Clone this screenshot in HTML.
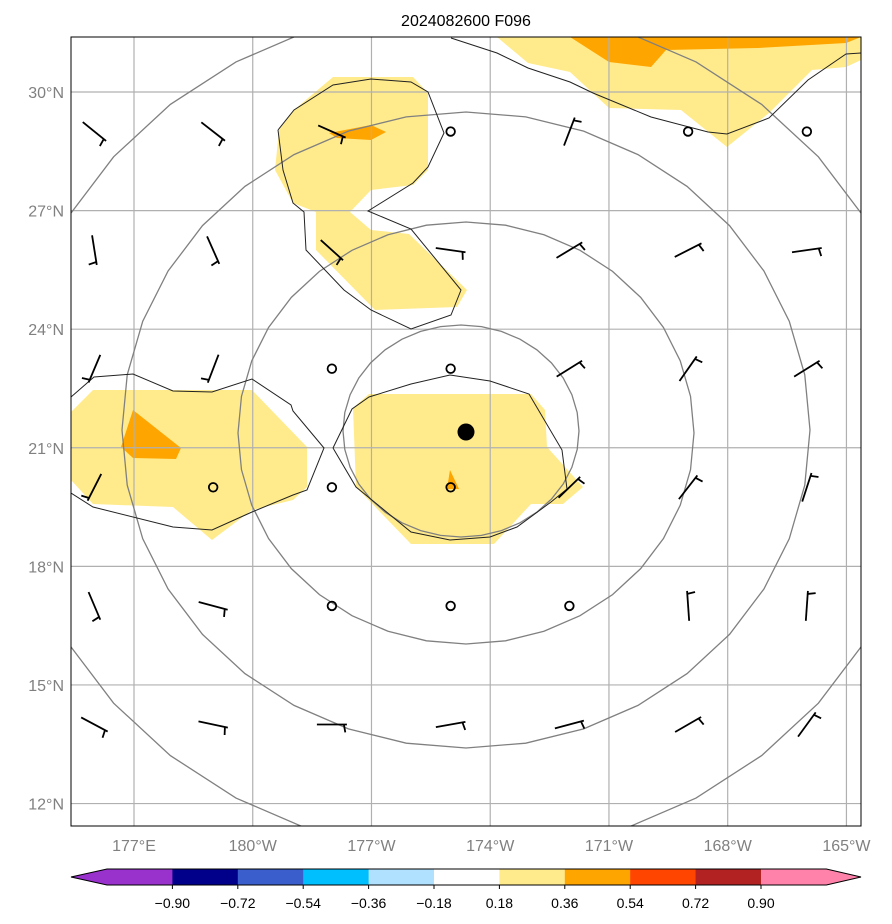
<!DOCTYPE html>
<html><head><meta charset="utf-8"><style>
html,body{margin:0;padding:0;background:#fff;width:892px;height:924px;overflow:hidden}
svg{display:block;font-family:"Liberation Sans","DejaVu Sans",sans-serif}
</style></head><body>
<svg id="chart" width="892" height="924" viewBox="0 0 892 924">
<defs><clipPath id="pc"><rect x="71" y="37" width="790" height="789"/></clipPath></defs>
<text x="466" y="26" text-anchor="middle" font-size="16" fill="#000">2024082600 F096</text>
<g id="fills" clip-path="url(#pc)"></g>
<g id="grid" clip-path="url(#pc)"></g>
<g id="rings" clip-path="url(#pc)"></g>
<g id="contours" clip-path="url(#pc)"></g>
<g id="barbs" clip-path="url(#pc)"></g>
<circle cx="466" cy="432" r="8.5" fill="#000"/>
<rect x="71" y="37" width="790" height="789" fill="none" stroke="#000" stroke-width="1"/>
<g id="ticks"></g>
<g id="cbar"></g>
</svg>
<script>
const NS='http://www.w3.org/2000/svg';
const lonTicks=[177,180,183,186,189,192,195];
const lonLabels=['177°E','180°W','177°W','174°W','171°W','168°W','165°W'];
const latTicks=[30,27,24,21,18,15,12];
const latLabels=['30°N','27°N','24°N','21°N','18°N','15°N','12°N'];
const stationLons=[176,179,182,185,188,191,194];
const stationLats=[29,26,23,20,17,14];
// barb tip direction (screen degrees), null = calm
const barbDirs=[
 [39,38,24,null,-69,null,null],
 [81,66,42,8,-31,-27,-8],
 [113,111,null,null,-32,-55,-32],
 [117,null,null,null,-44,-52,-72],
 [67,15,null,null,null,-94,-86],
 [28,12,0,-10,-15,-30,-54]
];
const cbLevels=[-0.90,-0.72,-0.54,-0.36,-0.18,0.18,0.36,0.54,0.72,0.90];
const cbColors=['#9932cc','#00008b','#3a5fcd','#00bfff','#b0e2ff','#ffffff','#ffeb8c','#ffa500','#ff4500','#b22222','#ff82ab'];
function X(lon){return 134+(lon-177)*39.58;}
function Y(lat){return 92+(30-lat)*39.53;}
function mk(tag,attrs,parent){const e=document.createElementNS(NS,tag);for(const k in attrs)e.setAttribute(k,attrs[k]);parent.appendChild(e);return e;}
function pts(a){return a.map(p=>p.join(',')).join(' ');}
const fills=document.getElementById('fills');
const Yl='#ffeb8c',Or='#ffa500';
const fillShapes=[
 [Yl,[[71,412],[93,390],[252,390],[307,447],[307,487],[293,500],[252,510],[212,540],[173,507],[93,504],[71,480]]],
 [Or,[[133,410],[181,448],[176,459],[133,458],[121,447]]],
 [Yl,[[369,394],[531,394],[545,410],[547,447],[583,487],[563,504],[531,504],[494,544],[411,544],[356,487],[353,408]]],
 [Or,[[450,470],[459,489],[447,489]]],
 [Yl,[[294,110],[333,77],[413,77],[428,93],[428,170],[413,185],[371,190],[350,212],[371,230],[409,234],[436,260],[467,290],[457,307],[375,310],[316,250],[316,212],[293,203],[275,170],[279,130]]],
 [Or,[[329,133],[371,125],[386,132],[371,140],[337,138]]],
 [Yl,[[497,37],[861,37],[861,60],[846,67],[812,70],[769,113],[727,147],[681,110],[609,108],[570,72],[528,63]]],
 [Or,[[570,37],[861,37],[846,43],[758,48],[666,50],[651,67],[609,62]]]
];
fillShapes.forEach(s=>{const e=mk('polygon',{points:pts(s[1]),fill:s[0]},fills);

});
const grid=document.getElementById('grid');
lonTicks.forEach(l=>mk('line',{x1:X(l),x2:X(l),y1:37,y2:826,stroke:'#b0b0b0','stroke-width':1.2},grid));
latTicks.forEach(l=>mk('line',{x1:71,x2:861,y1:Y(l),y2:Y(l),stroke:'#b0b0b0','stroke-width':1.2},grid));
const rings=document.getElementById('rings');
[[461,431,118,106],[466,433,228,211],[466,430,344,318],[466,430,460,425]].forEach(r=>{
 const a=[];for(let i=0;i<36;i++){const t=i*Math.PI/18;a.push([r[0]+r[2]*Math.cos(t),r[1]+r[3]*Math.sin(t)]);}
 mk('polygon',{points:pts(a),fill:'none',stroke:'#808080','stroke-width':1.3},rings);});
const cont=document.getElementById('contours');
const contourLines=[
 [[71,397],[94,377],[133,374],[173,391],[212,392],[252,379],[291,405],[293,411],[324,448],[307,490],[293,495],[252,512],[212,530],[173,527],[93,507],[71,493]],
 [[333,448],[352,409],[369,397],[411,384],[450,375],[490,381],[529,394],[562,450],[567,489],[551,502],[517,527],[490,537],[450,540],[411,532],[356,487],[333,448]],
 [[278,130],[294,110],[333,85],[371,79],[411,82],[428,92],[444,133],[428,167],[413,183],[368,211],[411,229],[461,290],[451,315],[411,329],[371,310],[344,290],[306,250],[304,212],[293,203],[283,170],[278,130]],
 [[451,38],[497,53],[528,68],[570,82],[593,93],[651,117],[708,132],[727,134],[769,118],[808,80],[846,54],[861,53]]
];
contourLines.forEach(c=>mk('polyline',{points:pts(c),fill:'none',stroke:'#222','stroke-width':1},cont));
const barbs=document.getElementById('barbs');
stationLats.forEach((lat,i)=>stationLons.forEach((lon,j)=>{
 const cx=X(lon),cy=Y(lat),d=barbDirs[i][j];
 if(d===null){const c=mk('circle',{cx:cx,cy:cy,r:4.3,fill:'none',stroke:'#000','stroke-width':1.8},barbs);
  
  return;}
 const a=d*Math.PI/180,L=15;
 const tx=cx+L*Math.cos(a),ty=cy+L*Math.sin(a);
 const g=mk('g',{},barbs);
 
 
 mk('line',{x1:cx-L*Math.cos(a),y1:cy-L*Math.sin(a),x2:tx,y2:ty,stroke:'#000','stroke-width':1.8},g);
 const fa=a+80*Math.PI/180,fx=tx-3*Math.cos(a),fy=ty-3*Math.sin(a);
 mk('line',{x1:fx,y1:fy,x2:fx+8*Math.cos(fa),y2:fy+8*Math.sin(fa),stroke:'#000','stroke-width':1.8},g);
}));
const tk=document.getElementById('ticks');
lonTicks.forEach((l,i)=>{const t=mk('text',{x:X(l),y:851,'text-anchor':'middle','font-size':16,fill:'#808080'},tk);t.textContent=lonLabels[i];
 
 });
latTicks.forEach((l,i)=>{const t=mk('text',{x:64,y:Y(l)+6,'text-anchor':'end','font-size':16,fill:'#808080'},tk);t.textContent=latLabels[i];
 
 });
const cb=document.getElementById('cbar');
const cx0=107,cw=65.4,cy0=869,ch=16,cn=cbColors.length;
cbColors.forEach((c,i)=>{
 const r=mk('rect',{x:cx0+cw*i,y:cy0,width:cw+0.6,height:ch,fill:c},cb);
 
 
});
mk('polygon',{points:pts([[71,cy0+ch/2],[cx0+0.5,cy0],[cx0+0.5,cy0+ch]]),fill:cbColors[0]},cb);
mk('polygon',{points:pts([[cx0+cw*cn-0.5,cy0],[861,cy0+ch/2],[cx0+cw*cn-0.5,cy0+ch]]),fill:cbColors[cn-1]},cb);
mk('polygon',{points:pts([[71,cy0+ch/2],[cx0,cy0],[cx0+cw*cn,cy0],[861,cy0+ch/2],[cx0+cw*cn,cy0+ch],[cx0,cy0+ch]]),fill:'none',stroke:'#000','stroke-width':1},cb);
cbLevels.forEach((v,i)=>{const x=cx0+cw*(i+1);
 mk('line',{x1:x,x2:x,y1:cy0+ch,y2:cy0+ch+4,stroke:'#000'},cb);
 const t=mk('text',{x:x,y:908,'text-anchor':'middle','font-size':14,fill:'#000'},cb);
 t.textContent=(v<0?'\u2212':'')+Math.abs(v).toFixed(2);
 
 });
</script>
</body></html>
